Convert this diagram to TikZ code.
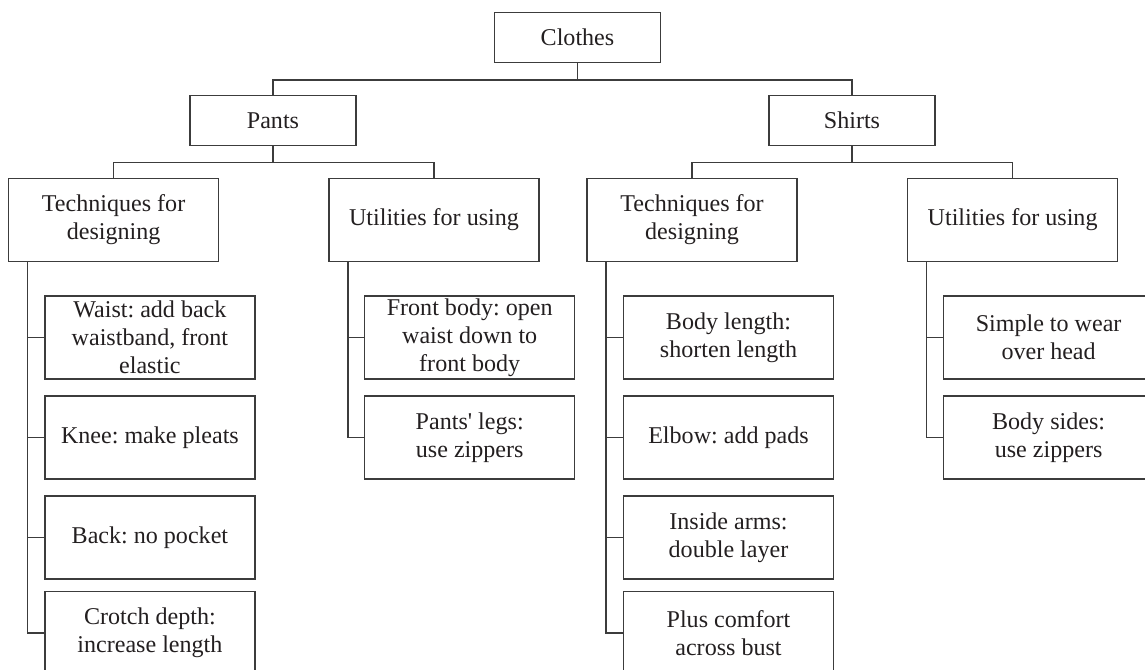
\documentclass[tikz,border=0pt]{standalone}
\usepackage{fontspec}
\setmainfont{Liberation Serif}
\frenchspacing
\definecolor{ink}{HTML}{231F20}
\definecolor{rule}{HTML}{3C3C3C}

\begin{document}
\begin{tikzpicture}[x=0.02cm,y=-0.02cm,
  box/.style={shape=rectangle,draw=rule,line width=0.8pt,text=ink,align=center,
    inner sep=0pt,font=\fontsize{13.7}{15.9}\selectfont},
  headbox/.style={box,minimum width=3.32cm,minimum height=1cm},
  itembox/.style={box,minimum width=4.2cm,minimum height=1.66cm},
  link/.style={draw=rule,line width=0.8pt}]
\useasboundingbox (0,0) rectangle (1145,669);
\clip (0,0) rectangle (1145,669);
% top levels
\node (clothes) at (577.5,37.5) [headbox] {Clothes};
\node (pants)   at (273,120.5)  [headbox] {Pants};
\node (shirts)  at (852,120.5)  [headbox] {Shirts};
\node (ptech) at (113.6,219.8)  [itembox] {Techniques for\\designing};
\node (putil) at (434,219.8)    [itembox] {Utilities for using};
\node (stech) at (692,219.8)    [itembox] {Techniques for\\designing};
\node (sutil) at (1012.6,219.8) [itembox] {Utilities for using};
% pants
\node (pt1) at (149.9,337.5) [itembox] {Waist: add back\\waistband, front\\elastic};
\node (pt2) at (149.9,437.5) [itembox] {Knee: make pleats};
\node (pt3) at (149.9,537.5) [itembox] {Back: no pocket};
\node (pt4) at (149.9,633)   [itembox] {Crotch depth:\\increase length};
\node (pu1) at (469.7,337.5) [itembox] {Front body: open\\waist down to\\front body};
\node (pu2) at (469.7,437.5) [itembox] {Pants\textquotesingle{} legs:\\use zippers};
% shirts
\node (st1) at (728.5,337.5) [itembox] {Body length:\\shorten length};
\node (st2) at (728.5,437.5) [itembox] {Elbow: add pads};
\node (st3) at (728.5,537.5) [itembox] {Inside arms:\\double layer};
\node (st4) at (728.5,633)   [itembox] {Plus comfort\\across bust};
\node (su1) at (1048.6,337.5) [itembox] {Simple to wear\\over head};
\node (su2) at (1048.6,437.5) [itembox] {Body sides:\\use zippers};
% connectors
\draw [link] (clothes.south) -- ++(0,17) -| (pants.north);
\draw [link] (clothes.south) -- ++(0,17) -| (shirts.north);
\draw [link] (pants.south) -- ++(0,16.3) -| (ptech.north);
\draw [link] (pants.south) -- ++(0,16.3) -| (putil.north);
\draw [link] (shirts.south) -- ++(0,16.3) -| (stech.north);
\draw [link] (shirts.south) -- ++(0,16.3) -| (sutil.north);
\foreach \c in {pt1,pt2,pt3,pt4}
  \draw [link] ([xshift=0.39cm]ptech.south west) |- (\c.west);
\foreach \c in {pu1,pu2}
  \draw [link] ([xshift=0.39cm]putil.south west) |- (\c.west);
\foreach \c in {st1,st2,st3,st4}
  \draw [link] ([xshift=0.39cm]stech.south west) |- (\c.west);
\foreach \c in {su1,su2}
  \draw [link] ([xshift=0.39cm]sutil.south west) |- (\c.west);
\end{tikzpicture}
\end{document}
